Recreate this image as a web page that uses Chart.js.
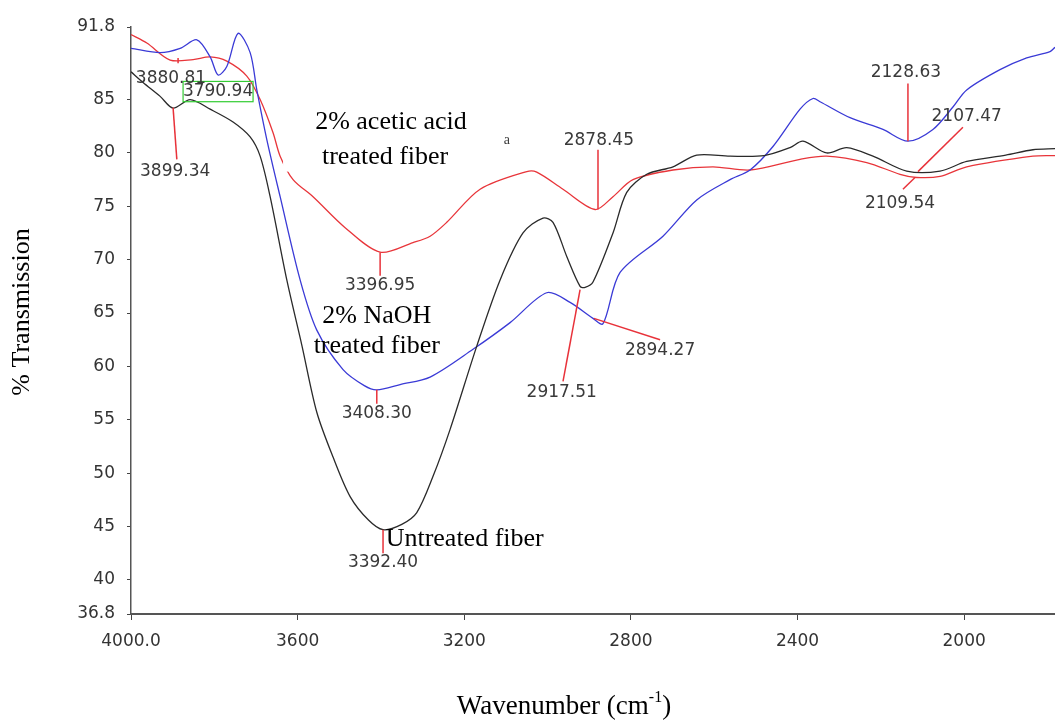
<!DOCTYPE html>
<html>
<head>
<meta charset="utf-8">
<script src="https://cdn.jsdelivr.net/npm/chart.js@4"></script>
<style>
  body { margin: 0; background: #fff; }
  canvas { display: block; }
</style>
</head>
<body>
<canvas id="grafico" width="1055" height="721"></canvas>
<script>
const ctx = document.getElementById('grafico');

// tick labels
const xTicks = [4000, 3600, 3200, 2800, 2400, 2000];
const yTicks = [36.8, 40, 45, 50, 55, 60, 65, 70, 75, 80, 85, 91.8];

// untreated fiber (black)
const untreatedWn = [4000, 3971, 3930, 3899, 3858, 3810, 3755, 3714, 3690, 3666, 3626, 3590, 3554, 3515, 3474, 3430, 3395, 3350, 3314, 3275, 3234, 3170, 3114, 3059, 3011, 2987, 2954, 2922, 2910, 2891, 2843, 2810, 2762, 2699, 2642, 2562, 2480, 2418, 2387, 2330, 2282, 2219, 2138, 2058, 1994, 1900, 1835, 1782];
const untreatedT = [87.6, 86.6, 85.3, 84.2, 85.0, 84.1, 82.9, 81.5, 79.7, 75.9, 68.1, 62.0, 55.7, 51.5, 47.8, 45.6, 44.7, 45.2, 46.3, 49.7, 54.1, 61.9, 68.1, 72.5, 73.9, 73.5, 70.3, 67.5, 67.4, 67.9, 72.5, 76.3, 78.0, 78.7, 79.8, 79.7, 79.75, 80.5, 81.1, 80.0, 80.5, 79.7, 78.3, 78.3, 79.2, 79.8, 80.3, 80.4];

// 2% NaOH treated fiber (blue)
const naohWn = [4000, 3930, 3882, 3842, 3810, 3791, 3770, 3743, 3714, 3698, 3674, 3642, 3594, 3554, 3491, 3440, 3410, 3354, 3282, 3179, 3090, 3002, 2946, 2891, 2867, 2826, 2723, 2642, 2562, 2514, 2459, 2394, 2363, 2346, 2274, 2195, 2135, 2075, 2027, 1994, 1914, 1850, 1794, 1782];
const naohT = [89.8, 89.4, 89.8, 90.6, 89.0, 87.3, 88.1, 91.2, 89.4, 85.9, 81.25, 75.9, 68.1, 63.4, 59.7, 58.2, 57.8, 58.3, 59.0, 61.6, 64.1, 66.9, 66.0, 64.5, 64.0, 68.8, 72.2, 75.6, 77.5, 78.4, 80.6, 84.1, 85.1, 84.8, 83.3, 82.2, 81.1, 82.2, 84.3, 85.9, 87.8, 88.9, 89.5, 89.9];

// 2% acetic acid treated fiber (red)
const aceticWn = [4000, 3962, 3906, 3851, 3810, 3770, 3722, 3690, 3659, 3642, 3611, 3563, 3486, 3402, 3323, 3282, 3242, 3162, 3050, 3026, 2963, 2886, 2843, 2795, 2699, 2603, 2514, 2394, 2330, 2234, 2154, 2114, 2058, 1994, 1835, 1782];
const aceticT = [91.1, 90.3, 88.7, 88.75, 89.0, 88.6, 87.2, 85.0, 81.9, 79.7, 77.5, 75.9, 73.0, 70.7, 71.6, 72.2, 73.5, 76.6, 78.25, 78.2, 76.6, 74.7, 75.9, 77.5, 78.4, 78.7, 78.4, 79.4, 79.7, 79.1, 78.0, 77.7, 77.8, 78.7, 79.7, 79.75];

// peak labels: text, label position, lead line (wavenumber, %T)
const peakText = ['3880.81', '3790.94', '3899.34', '3396.95', '2878.45', '3408.30', '3392.40', '2917.51', '2894.27', '2128.63', '2107.47', '2109.54'];
const peakAt = [[3904, 87.0], [3791, 85.75], [3894, 78.25], [3402, 67.6], [2877, 81.2], [3410, 55.6], [3395, 41.6], [2966, 57.5], [2730, 61.5], [2140, 87.5], [1994, 83.4], [2154, 75.3]];
const peakLines = [
  [[3887, 88.9], [3887, 88.4]],
  null,
  [[3899, 84.25], [3890, 79.4]],
  [[3402, 70.66], [3402, 68.5]],
  [[2879, 80.3], [2879, 74.7]],
  [[3410, 57.8], [3410, 56.5]],
  [[3395, 44.7], [3395, 42.5]],
  [[2922, 67.2], [2963, 58.6]],
  [[2889, 64.5], [2730, 62.5]],
  [[2135, 86.5], [2135, 81.1]],
  [[2003, 82.4], [2111, 78.25]],
  [[2118, 77.7], [2147, 76.6]]
];

// series captions
const captionText = ['2% acetic acid', 'treated fiber', '2% NaOH', 'treated fiber', 'Untreated fiber'];
const captionAt = [[3376, 82.9], [3390, 79.6], [3410, 64.75], [3410, 61.85], [3199, 43.8]];

function pontos(wn, t) {
  return wn.map((w, i) => ({ x: w, y: t[i] }));
}

const anotacoes = {
  id: 'anotacoes',
  afterDatasetsDraw(chart) {
    const c = chart.ctx;
    const x = chart.scales.x;
    const y = chart.scales.y;
    const px = (w) => x.getPixelForValue(w);
    const py = (v) => y.getPixelForValue(v);
    c.save();

    // white patch behind the acetic acid caption
    c.fillStyle = '#fff';
    c.fillRect(px(3635), py(85), px(3114) - px(3635), py(78.25) - py(85));

    // green box round 3790.94
    c.strokeStyle = '#33cc33';
    c.lineWidth = 1.2;
    c.strokeRect(px(3875), py(86.7), px(3707) - px(3875), py(84.8) - py(86.7));

    // lead lines
    c.strokeStyle = '#e8323a';
    c.lineWidth = 1.5;
    peakLines.forEach(l => {
      if (!l) return;
      c.beginPath();
      c.moveTo(px(l[0][0]), py(l[0][1]));
      c.lineTo(px(l[1][0]), py(l[1][1]));
      c.stroke();
    });

    // peak labels
    c.fillStyle = '#3a3a3a';
    c.font = '17px "DejaVu Sans"';
    c.textAlign = 'center';
    c.textBaseline = 'middle';
    peakText.forEach((t, i) => {
      c.fillText(t, px(peakAt[i][0]), py(peakAt[i][1]));
    });
    c.font = '14px "Liberation Serif"';
    c.fillText('a', px(3098), py(81.2));

    // captions
    c.fillStyle = '#000';
    c.font = '26px "Liberation Serif"';
    captionText.forEach((t, i) => {
      c.fillText(t, px(captionAt[i][0]), py(captionAt[i][1]));
    });

    // axis titles
    c.font = '26px "Liberation Serif"';
    c.save();
    c.translate(22, 312);
    c.rotate(-Math.PI / 2);
    c.fillText('% Transmission', 0, 0);
    c.restore();

    const a = 'Wavenumber (cm';
    const b = '-1';
    const d = ')';
    c.font = '27px "Liberation Serif"';
    const wa = c.measureText(a).width;
    const wd = c.measureText(d).width;
    c.font = '16px "Liberation Serif"';
    const wb = c.measureText(b).width;
    const sx = 564 - (wa + wb + wd) / 2;
    c.textAlign = 'left';
    c.font = '27px "Liberation Serif"';
    c.fillText(a, sx, 707);
    c.font = '16px "Liberation Serif"';
    c.fillText(b, sx + wa, 698);
    c.font = '27px "Liberation Serif"';
    c.fillText(d, sx + wa + wb, 707);

    c.restore();
  }
};

new Chart(ctx, {
  type: 'line',
  data: {
    datasets: [
      {
        label: 'Untreated fiber',
        data: pontos(untreatedWn, untreatedT),
        borderColor: '#2a2a2a',
        borderWidth: 1.3,
        pointRadius: 0,
        tension: 0.3
      },
      {
        label: '2% NaOH treated fiber',
        data: pontos(naohWn, naohT),
        borderColor: '#3a3ad6',
        borderWidth: 1.3,
        pointRadius: 0,
        tension: 0.3
      },
      {
        label: '2% acetic acid treated fiber',
        data: pontos(aceticWn, aceticT),
        borderColor: '#e8353a',
        borderWidth: 1.3,
        pointRadius: 0,
        tension: 0.3
      }
    ]
  },
  options: {
    responsive: false,
    animation: false,
    layout: { padding: { top: 27, right: 0, left: 0, bottom: 0 } },
    plugins: {
      legend: { display: false },
      tooltip: { enabled: false }
    },
    scales: {
      x: {
        type: 'linear',
        reverse: true,
        min: 1782,
        max: 4000,
        afterBuildTicks: (s) => { s.ticks = xTicks.map(v => ({ value: v })); },
        afterFit: (s) => { s.height = 107; },
        ticks: {
          color: '#333',
          font: { family: 'DejaVu Sans', size: 17 },
          padding: 11,
          maxRotation: 0,
          autoSkip: false,
          callback: (v) => v === 4000 ? '4000.0' : String(v)
        },
        grid: { drawOnChartArea: false, tickLength: 6, color: '#444' },
        border: { color: '#555', width: 2 }
      },
      y: {
        min: 36.8,
        max: 91.8,
        afterBuildTicks: (s) => { s.ticks = yTicks.map(v => ({ value: v })); },
        afterFit: (s) => { s.width = 131; },
        ticks: {
          color: '#333',
          font: { family: 'DejaVu Sans', size: 17 },
          padding: 12,
          autoSkip: false,
          callback: (v) => String(v)
        },
        grid: { drawOnChartArea: false, tickLength: 4, color: '#444' },
        border: { color: '#555', width: 1.5 }
      }
    }
  },
  plugins: [anotacoes]
});
</script>
</body>
</html>
